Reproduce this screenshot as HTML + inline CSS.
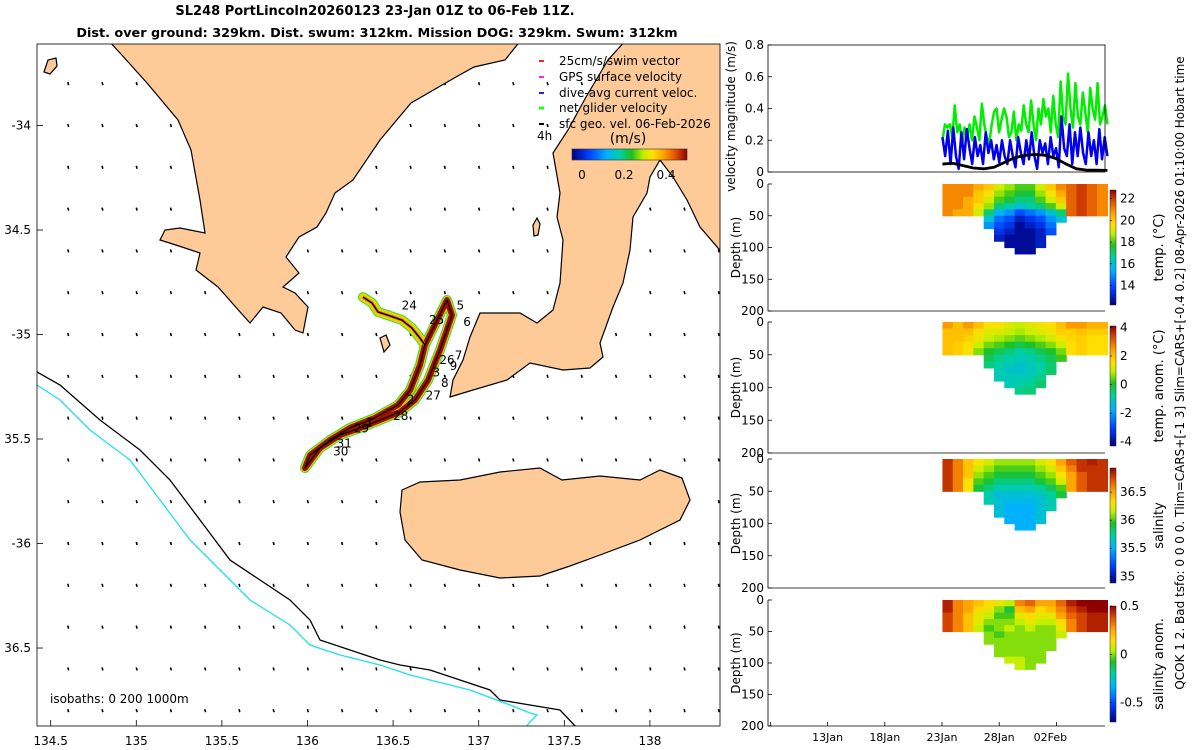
<!DOCTYPE html>
<html><head><meta charset="utf-8">
<style>
html,body{margin:0;padding:0;background:#fff;}
svg{display:block;font-family:"DejaVu Sans","Liberation Sans",sans-serif;}
</style></head>
<body>
<svg id="fig" width="1200" height="750" viewBox="0 0 1200 750" xmlns="http://www.w3.org/2000/svg">
<defs>
<linearGradient id="jetH" x1="0" y1="0" x2="1" y2="0">
<stop offset="0" stop-color="#000080"/><stop offset="0.15" stop-color="#0040ff"/><stop offset="0.3" stop-color="#00b0ff"/><stop offset="0.42" stop-color="#00d0a0"/><stop offset="0.52" stop-color="#20c020"/><stop offset="0.62" stop-color="#c0f000"/><stop offset="0.7" stop-color="#ffe000"/><stop offset="0.8" stop-color="#ffa000"/><stop offset="0.9" stop-color="#e05000"/><stop offset="1" stop-color="#900000"/>
</linearGradient>
<linearGradient id="jetV" x1="0" y1="1" x2="0" y2="0">
<stop offset="0" stop-color="#000080"/><stop offset="0.15" stop-color="#0040ff"/><stop offset="0.3" stop-color="#00b0ff"/><stop offset="0.42" stop-color="#00d0a0"/><stop offset="0.52" stop-color="#20c020"/><stop offset="0.62" stop-color="#c0f000"/><stop offset="0.7" stop-color="#ffe000"/><stop offset="0.8" stop-color="#ffa000"/><stop offset="0.9" stop-color="#e05000"/><stop offset="1" stop-color="#900000"/>
</linearGradient>
<clipPath id="mapclip"><rect x="37" y="44" width="683" height="682"/></clipPath>
</defs>

<text x="375" y="15" text-anchor="middle" font-size="13" font-weight="bold">SL248 PortLincoln20260123 23-Jan 01Z to 06-Feb 11Z.</text>
<text x="377" y="37" text-anchor="middle" font-size="12.8" font-weight="bold">Dist. over ground: 329km. Dist. swum: 312km. Mission DOG: 329km. Swum: 312km</text>

<g id="map">
<g id="vecs" clip-path="url(#mapclip)"></g>
<g clip-path="url(#mapclip)" fill="#fdca98" stroke="#000" stroke-width="1.2">
<path d="M108,40 L120,53 L147,83 L178,120 L191,150 L200,200 L205,233 L180,228 L165,230 L160,240 L182,247 L200,253 L196,270 L218,287 L241,313 L250,323 L263,307 L281,313 L295,330 L303,333 L308,307 L295,293 L283,287 L299,273 L286,257 L299,237 L317,227 L326,213 L335,193 L353,180 L380,140 L411,103 L456,77 L474,67 L505,60 L521,40 Z"/>
<path d="M626,40 L608,60 L586,97 L568,130 L553,153 L560,193 L557,217 L563,240 L560,283 L553,310 L537,323 L520,313 L480,313 L470,337 L463,360 L453,380 L450,397 L473,390 L507,380 L530,363 L563,370 L590,368 L603,357 L600,343 L613,307 L623,283 L630,250 L633,217 L647,193 L650,177 L660,160 L673,177 L687,200 L700,227 L724,255 L724,40 Z"/>
<path d="M402,490 L420,482 L460,480 L500,472 L540,468 L562,480 L600,476 L640,480 L660,470 L682,478 L690,500 L680,520 L660,530 L640,540 L600,555 L570,566 L540,576 L500,578 L460,570 L422,560 L405,540 L400,512 Z"/>
<path d="M44,72 L48,60 L56,58 L57,66 L50,74 Z"/>
<path d="M380,338 L386,335 L390,345 L384,352 Z"/>
<path d="M533,225 L537,218 L540,224 L538,235 L534,236 Z"/>
</g>
<g clip-path="url(#mapclip)" fill="none" stroke-width="1.3">
<path stroke="#000" d="M37,372 L60,385 L100,420 L140,450 L170,480 L200,520 L230,560 L260,580 L290,600 L310,620 L320,640 L350,650 L380,660 L400,665 L430,670 L460,680 L490,690 L500,700 L530,705 L560,710 L577,728"/>
<path stroke="#22e0e8" d="M37,385 L60,400 L90,430 L130,460 L160,500 L190,540 L220,570 L250,600 L290,625 L310,645 L340,655 L380,665 L410,675 L470,690 L510,705 L530,713 L537,715 L530,722 L525,728"/>
</g>
<g id="track" clip-path="url(#mapclip)"></g>
<rect x="37" y="44" width="683" height="682" fill="none" stroke="#000" stroke-width="0.8"/>
<g id="mapaxes" font-size="12"></g>
<g font-size="12">
<line x1="539" y1="61" x2="544" y2="61" stroke="#ff2020" stroke-width="2"/><text x="559" y="65">25cm/s/swim vector</text>
<line x1="539" y1="77" x2="544" y2="77" stroke="#ff20ff" stroke-width="2"/><text x="559" y="81">GPS surface velocity</text>
<line x1="539" y1="93" x2="544" y2="93" stroke="#2020ff" stroke-width="2"/><text x="559" y="97">dive-avg current veloc.</text>
<line x1="539" y1="108" x2="544" y2="108" stroke="#20ff20" stroke-width="3"/><text x="559" y="112">net glider velocity</text>
<line x1="539" y1="124" x2="544" y2="124" stroke="#000" stroke-width="2"/><text x="559" y="128">sfc geo. vel. 06-Feb-2026</text>
<text x="537" y="140" font-size="12">4h</text>
<text x="628" y="143" font-size="14" text-anchor="middle">(m/s)</text>
<rect x="572" y="149" width="115" height="11" fill="url(#jetH)" stroke="#333" stroke-width="0.6"/>
<text x="582" y="179" font-size="12" text-anchor="middle">0</text>
<text x="624" y="179" font-size="12" text-anchor="middle">0.2</text>
<text x="666" y="179" font-size="12" text-anchor="middle">0.4</text>
</g>
<text x="50" y="703" font-size="12">isobaths: 0   200  1000m</text>
</g>

<g id="right"></g>

<text transform="translate(1184,373) rotate(-90)" text-anchor="middle" font-size="12">QCOK 1  2. Bad tsfo: 0  0  0  0. Tlim=CARS+[-1 3] Slim=CARS+[-0.4 0.2] 08-Apr-2026 01:10:00 Hobart time</text>
</svg>
<script>
// ---------- data ----------
const trackLon = [136.324,136.377,136.412,136.482,136.552,136.610,136.657,136.686,136.815,136.844,136.774,136.704,136.628,136.540,136.424,136.307,136.190,136.073,135.985,136.015,136.131,136.248,136.394,136.529,136.599,136.657,136.686];
const trackLat = [-34.821,-34.849,-34.892,-34.911,-34.931,-34.969,-35.017,-35.050,-34.835,-34.907,-35.074,-35.218,-35.313,-35.371,-35.409,-35.447,-35.481,-35.543,-35.639,-35.577,-35.505,-35.447,-35.399,-35.337,-35.266,-35.146,-35.050];
const dayLabels = ['24','25','5','6','7','26','9','3','8','27','2','28','1','29','31','30'];
const dayLon = [136.55,136.71,136.87,136.91,136.86,136.77,136.83,136.73,136.78,136.69,136.58,136.50,136.34,136.27,136.17,136.15];
const dayLat = [-34.88,-34.95,-34.88,-34.96,-35.12,-35.14,-35.17,-35.20,-35.25,-35.31,-35.33,-35.41,-35.44,-35.47,-35.54,-35.58];
const lonTicks = [134.5,135,135.5,136,136.5,137,137.5,138];
const latTicks = [-34,-34.5,-35,-35.5,-36,-36.5];
const latTickLabels = ['-34','34.5','-35','35.5','-36','36.5'];

const velGreen = [0.2,0.3,0.28,0.3,0.22,0.42,0.25,0.3,0.18,0.28,0.22,0.3,0.2,0.35,0.28,0.2,0.43,0.3,0.22,0.18,0.3,0.38,0.4,0.25,0.33,0.4,0.35,0.22,0.25,0.38,0.2,0.3,0.26,0.42,0.3,0.25,0.45,0.3,0.2,0.4,0.3,0.46,0.35,0.4,0.25,0.48,0.3,0.22,0.57,0.35,0.3,0.62,0.4,0.28,0.56,0.35,0.3,0.5,0.38,0.25,0.53,0.4,0.33,0.56,0.3,0.35,0.42,0.3];
const velBlue = [0.22,0.1,0.26,0.05,0.28,0.1,0.02,0.25,0.08,0.27,0.15,0.05,0.22,0.1,0.17,0.05,0.25,0.12,0.2,0.08,0.17,0.06,0.2,0.1,0.05,0.2,0.1,0.03,0.22,0.12,0.05,0.2,0.08,0.25,0.1,0.02,0.2,0.12,0.18,0.05,0.22,0.1,0.15,0.03,0.35,0.15,0.1,0.3,0.05,0.25,0.1,0.28,0.12,0.05,0.25,0.1,0.2,0.05,0.27,0.08,0.22,0.1];
const velBlack = [0.05,0.055,0.04,0.025,0.02,0.03,0.06,0.09,0.105,0.11,0.105,0.085,0.05,0.02,0.012,0.012,0.01];
const velStartDay = 0.04, velEndDay = 14.46;
const dateTicks = [-15,-10,-5,0,5,10];
const dateLabels = ['','13Jan','18Jan','23Jan','28Jan','02Feb'];

// section profiles: each column = values in 10 m bins from surface
const tempCols = [
 [21,21,21,21,21],[21,21,21,21,20.5],[21,21,20.5,20.5,20.5],[20.5,20,20,19.5,19],
 [20,19.5,19,18.5,17,16,15],[19,18.5,18,17,15.5,14.5,14,13.5,13],[18.5,18,17.5,16.5,15,14,13.5,13,12.5,12.5],
 [18,17.5,17,16,14,13,12.5,12.5,12.5,12.5,12.5],[18,17.5,17,16.5,14.5,13.5,13,12.5,12.5,12.5,12.5],
 [19,18.5,18,17,15,14,13.5,13,13,13],[20,19.5,19,18,16,15,14.5,14],[21,20.5,20,19,17,16],
 [21.5,21.5,21.5,21.5,21.5],[22,22,22,22,22],[21.5,21.5,21.5,21.5,21.5],[21,21,21,21,21]];
const tanomCols = [
 [2.5,2,2,2,2],[2,2,2,1.8,1.8],[2.5,2,1.8,1.6,1.5],[2,1.6,1.4,1,0.6],
 [1.5,1.2,1,0.5,0,-0.3,-0.5],[1.5,1.2,0.8,0.3,-0.3,-0.6,-0.8,-1,-1],[1.2,1,0.6,0,-0.5,-0.8,-1,-1.2,-1,-1],
 [1,0.8,0.4,-0.2,-0.8,-1,-1.2,-1.2,-1,-0.8,-0.6],[1.2,1,0.6,0,-0.6,-0.9,-1,-1.1,-0.9,-0.7,-0.5],
 [1.4,1.2,0.8,0.3,-0.3,-0.6,-0.8,-0.8,-0.6,-0.4],[1.6,1.4,1.1,0.6,0,-0.3,-0.4,-0.4],[2,1.8,1.5,1,0.5,0.2],
 [2.5,1.8,1.7,1.6,1.6],[2.5,2,1.8,1.8,1.8],[2.2,1.8,1.6,1.6,1.6],[2.2,1.8,1.6,1.6,1.6]];
const salCols = [
 [36.8,36.8,36.8,36.8,36.8],[36.6,36.6,36.6,36.6,36.6],[36.4,36.4,36.4,36.3,36.3],[36.3,36.2,36.1,36,35.9],
 [36.2,36.1,36,35.9,35.8,35.7,35.7],[36.1,36,35.9,35.8,35.7,35.6,35.6,35.6,35.6],[36.1,36,35.9,35.8,35.7,35.6,35.55,35.5,35.5,35.5],
 [36.1,36,35.9,35.8,35.7,35.6,35.55,35.5,35.5,35.5,35.5],[36.1,36,35.9,35.8,35.7,35.6,35.55,35.5,35.5,35.5,35.5],
 [36.2,36.1,36,35.9,35.75,35.65,35.6,35.6,35.6,35.6],[36.3,36.2,36.1,36,35.85,35.75,35.7,35.7],[36.5,36.4,36.3,36.2,36,35.9],
 [36.7,36.6,36.5,36.5,36.5],[36.8,36.8,36.7,36.7,36.7],[36.85,36.8,36.8,36.8,36.8],[36.8,36.8,36.8,36.8,36.8]];
const sanomCols = [
 [0.45,0.45,0.4,0.4,0.4],[0.3,0.3,0.3,0.3,0.3],[0.25,0.25,0.2,0.2,0.2],[0.2,0.15,0.1,0.1,0.05],
 [0.15,0.1,0.05,0,-0.05,0,0],[0.1,0,-0.05,0,0,-0.05,0,0,0],[0.05,-0.1,-0.05,0,0.05,0,0,0,0,0.05],
 [0.3,0.2,0.1,0.05,0,0,0,0,0,0.05,0.05],[0.35,0.25,0.15,0.1,0.05,0,0,0,0,0,0],
 [0.25,0.15,0.1,0.05,0,0,0,0,0,0],[0.25,0.2,0.1,0.05,0,0,0,0],[0.35,0.3,0.25,0.15,0.1,0.05],
 [0.45,0.4,0.35,0.3,0.3],[0.5,0.45,0.4,0.4,0.4],[0.5,0.5,0.45,0.45,0.45],[0.5,0.5,0.45,0.45,0.45]];
const secStartDay = 0.04, secEndDay = 14.46;

// ---------- helpers ----------
const NS='http://www.w3.org/2000/svg';
function mk(tag, attrs, parent){const e=document.createElementNS(NS,tag);for(const k in attrs)e.setAttribute(k,attrs[k]);parent.appendChild(e);return e;}
const xLon = lon => 37 + (lon-134.42)*171.2;
const yLat = lat => 44 + (-33.61-lat)*209;
const cmapPos=[0,0.15,0.3,0.42,0.52,0.62,0.7,0.8,0.9,1];
const cmapCol=[[0,0,128],[0,64,255],[0,176,255],[0,208,160],[32,192,32],[192,240,0],[255,224,0],[255,160,0],[224,80,0],[144,0,0]];
function jet(t){t=Math.max(0,Math.min(1,t));
 let i=0; while(i<cmapPos.length-2 && t>cmapPos[i+1]) i++;
 const f=(t-cmapPos[i])/(cmapPos[i+1]-cmapPos[i]);
 const c=cmapCol[i].map((v,k)=>Math.round(v+(cmapCol[i+1][k]-v)*f));
 return 'rgb('+c.join(',')+')';}

// ---------- map vectors ----------
const vg=document.getElementById('vecs');
for(let lat=-33.8; lat>=-36.85; lat-=0.2){
 for(let lon=134.6; lon<=138.45; lon+=0.2){
  const x=xLon(lon), y=yLat(lat);
  const l=mk('line',{x1:x,y1:y-1.5,x2:x+0.8,y2:y+1.5,stroke:'#000','stroke-width':1.6},vg);
  
  
 }
}
// ---------- track ----------
const tg=document.getElementById('track');
const pts=trackLon.map((lo,i)=>xLon(lo)+','+yLat(trackLat[i])).join(' ');
const firstPts=trackLon.slice(0,8).map((lo,i)=>xLon(lo)+','+yLat(trackLat[i])).join(' ');
const restPts=trackLon.slice(7).map((lo,i)=>xLon(lo)+','+yLat(trackLat[i+7])).join(' ');
const t1=mk('polyline',{points:pts,fill:'none',stroke:'#30e030','stroke-width':10,'stroke-linejoin':'round','stroke-linecap':'round'},tg);


const t2=mk('polyline',{points:pts,fill:'none',stroke:'#f0d000','stroke-width':8,'stroke-linejoin':'round','stroke-linecap':'round'},tg);


const t3=mk('polyline',{points:restPts,fill:'none',stroke:'#a01000','stroke-width':6,'stroke-linejoin':'round'},tg);


const t4=mk('polyline',{points:firstPts,fill:'none',stroke:'#d07010','stroke-width':3,'stroke-linejoin':'round'},tg);


const t5=mk('polyline',{points:pts,fill:'none',stroke:'#000','stroke-width':1.3,'stroke-linejoin':'round'},tg);


dayLabels.forEach((s,i)=>{
 const t=mk('text',{x:xLon(dayLon[i]),y:yLat(dayLat[i]),'font-size':12},tg);
 t.textContent=s;
 
 
});
// ---------- map axes ----------
const ma=document.getElementById('mapaxes');
lonTicks.forEach(v=>{
 const x=xLon(v);
 const l=mk('line',{x1:x,y1:726,x2:x,y2:720,stroke:'#000','stroke-width':0.8},ma);
 
 
 const t=mk('text',{x:x,y:745,'text-anchor':'middle'},ma);
 t.textContent=String(v);
 
 
});
latTicks.forEach((v,i)=>{
 const y=yLat(v);
 const l=mk('line',{x1:37,y1:y,x2:43,y2:y,stroke:'#000','stroke-width':0.8},ma);
 
 
 const t=mk('text',{x:31,y:y+4,'text-anchor':'end'},ma);
 t.textContent=latTickLabels[i];
 
 
});

// ---------- right panels ----------
const R=document.getElementById('right');
const PX0=768, PX1=1105;
const xDay = d => 942 + d*11.44;
const vTop=45, vBot=172;
const yVel = v => vBot - v/0.8*(vBot-vTop);
function series(arr,color,w,name){
 const n=arr.length;
 const p=arr.map((v,i)=>xDay(velStartDay+(velEndDay-velStartDay)*i/(n-1))+','+yVel(v)).join(' ');
 const e=mk('polyline',{points:p,fill:'none',stroke:color,'stroke-width':w,'stroke-linejoin':'round'},R);
 
 
}
series(velGreen,'#00ee00',2.5,'net-glider-velocity-series');
series(velBlue,'#0000ee',2.5,'dive-avg-current-series');
series(velBlack,'#000',2.8,'sfc-geo-velocity-series');
const vf=mk('rect',{x:PX0,y:vTop,width:PX1-PX0,height:vBot-vTop,fill:'none',stroke:'#000','stroke-width':0.8},R);


[0,0.2,0.4,0.6,0.8].forEach(v=>{
 const y=yVel(v);
 const l=mk('line',{x1:PX0,y1:y,x2:PX0+4,y2:y,stroke:'#000','stroke-width':0.8},R);
 
 
 const t=mk('text',{x:PX0-4,y:y+4,'text-anchor':'end','font-size':12},R);
 t.textContent=v===0?'0':String(v);
 
 
});
const vl=mk('text',{transform:'translate(735,'+((vTop+vBot)/2+8)+') rotate(-90)','text-anchor':'middle','font-size':12},R);
vl.textContent='velocity magnitude (m/s)';



const panels=[
 {top:184,bot:311,cols:tempCols,vmin:12.2,vmax:22.8,cbTop:190,cbBot:305,ticks:[14,16,18,20,22],label:'temp. (°C)',name:'temperature'},
 {top:322,bot:453,cols:tanomCols,vmin:-4.3,vmax:4.1,cbTop:326,cbBot:446,ticks:[-4,-2,0,2,4],label:'temp. anom. (°C)',name:'temp-anomaly'},
 {top:459,bot:588,cols:salCols,vmin:34.88,vmax:36.93,cbTop:468,cbBot:583,ticks:[35,35.5,36,36.5],label:'salinity',name:'salinity'},
 {top:600,bot:726,cols:sanomCols,vmin:-0.7,vmax:0.5,cbTop:606,cbBot:722,ticks:[-0.5,0,0.5],label:'salinity anom.',name:'salinity-anomaly'}];
panels.forEach(P=>{
 const yD = d => P.top + d/200*(P.bot-P.top);
 const n=P.cols.length;
 const x0=xDay(secStartDay), x1=xDay(secEndDay), cw=(x1-x0)/n;
 P.cols.forEach((col,i)=>{
  col.forEach((v,j)=>{
   const r=mk('rect',{x:x0+i*cw,y:yD(j*10),width:cw+0.6,height:yD(10)-yD(0)+0.6,fill:jet((v-P.vmin)/(P.vmax-P.vmin))},R);
   
   
  });
 });
 const ax=mk('path',{d:'M'+PX0+','+P.top+' L'+PX0+','+P.bot+' L'+PX1+','+P.bot,fill:'none',stroke:'#000','stroke-width':0.8},R);
 
 
 [0,50,100,150,200].forEach(d=>{
  const y=yD(d);
  const l=mk('line',{x1:PX0,y1:y,x2:PX0+4,y2:y,stroke:'#000','stroke-width':0.8},R);
  
  
  const t=mk('text',{x:PX0-4,y:y+4,'text-anchor':'end','font-size':12},R);
  t.textContent=String(d);
  
  
 });
 const dl=mk('text',{transform:'translate(740,'+((P.top+P.bot)/2)+') rotate(-90)','text-anchor':'middle','font-size':12},R);
 dl.textContent='Depth (m)';
 
 
 const cb=mk('rect',{x:1110,y:P.cbTop,width:6,height:P.cbBot-P.cbTop,fill:'url(#jetV)',stroke:'#222','stroke-width':0.5},R);
 
 
 const yC = v => P.cbBot - (v-P.vmin)/(P.vmax-P.vmin)*(P.cbBot-P.cbTop);
 P.ticks.forEach(v=>{
  const y=yC(v);
  const l=mk('line',{x1:1110,y1:y,x2:1112,y2:y,stroke:'#000','stroke-width':0.6},R);
  
  
  const t=mk('text',{x:1120,y:y+4,'font-size':12},R);
  t.textContent=String(v);
  
  
 });
 const lab=mk('text',{transform:'translate(1163,'+((P.cbTop+P.cbBot)/2)+') rotate(-90)','text-anchor':'middle','font-size':13},R);
 lab.textContent=P.label;
 
 
});
dateTicks.forEach((d,i)=>{
 const x=xDay(d);
 const l=mk('line',{x1:x,y1:726,x2:x,y2:722,stroke:'#000','stroke-width':0.8},R);
 
 
 if(dateLabels[i]){
  const t=mk('text',{x:x-(d===10?6:0),y:741,'text-anchor':'middle','font-size':11},R);
  t.textContent=dateLabels[i];
  
  
 }
});
</script>
</body></html>
